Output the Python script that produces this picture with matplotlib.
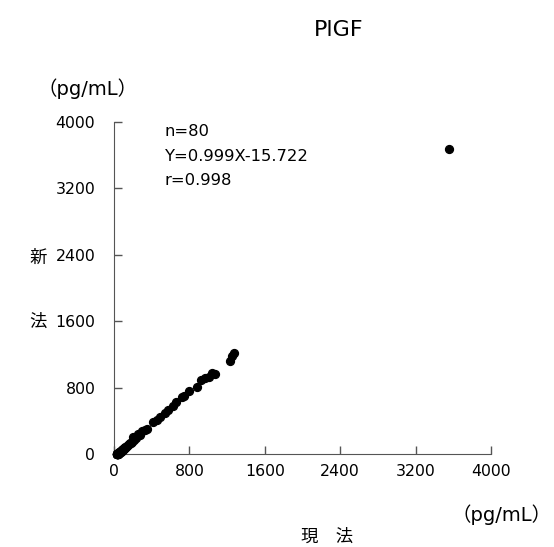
import numpy as np
import matplotlib.pyplot as plt

plt.rcParams['font.family'] = ['DejaVu Sans', 'Noto Sans CJK JP']

# current method (x) vs new method (y), pg/mL
x_cur = [3555, 1270, 1230, 1070, 1005, 925, 880, 800, 720, 660, 570, 540,
         460, 410, 300, 255, 200, 175, 155, 135, 120, 110, 100, 90, 83, 77,
         71, 65, 60, 55, 51, 47, 43, 40, 37, 35, 33, 31, 30, 29,
         215, 190, 167, 145, 127, 115, 105, 95, 87, 80, 74, 68, 63, 58,
         53, 49, 45, 42, 39, 36, 34, 32, 28, 27, 325, 275, 235, 355, 485, 625,
         745, 965, 1035, 1255, 85, 93, 69, 61, 52, 41]
y_new = [3670, 1213, 1121, 969, 933, 889, 808, 760, 681, 621, 529, 500,
         408, 380, 280, 240, 200, 138, 115, 96, 82, 72, 61, 50, 44, 38,
         32, 27, 22, 17, 13, 10, 6, 4, 2, 1, 0, 0, 0, 0,
         170, 150, 128, 104, 88, 76, 66, 56, 48, 42, 35, 30, 24, 20,
         15, 11, 8, 5, 3, 1, 0, 0, 0, 0, 285, 232, 196, 305, 440, 575,
         700, 910, 980, 1180, 46, 54, 30, 22, 13, 4]

ticks = [0, 800, 1600, 2400, 3200, 4000]

fig = plt.figure(figsize=(5.54, 5.47), dpi=100)
ax = fig.add_axes([0.2058, 0.170, 0.6805, 0.607])

ax.scatter(x_cur, y_new, s=32, color='black', zorder=3, clip_on=False)

ax.set_xlim(0, 4000)
ax.set_ylim(0, 4000)
ax.set_xticks(ticks)
ax.set_yticks(ticks)
ax.tick_params(direction='in', length=6, width=1, labelsize=11.3, color='#555555')
ax.tick_params(axis='x', pad=7)
ax.tick_params(axis='y', pad=13.5)
for side in ['top', 'right']:
    ax.spines[side].set_visible(False)
for side in ['left', 'bottom']:
    ax.spines[side].set_color('#555555')

ax.text(0.135, 0.97, 'n=80', transform=ax.transAxes, fontsize=11.8, va='center')
ax.text(0.135, 0.895, 'Y=0.999X-15.722', transform=ax.transAxes, fontsize=11.8, va='center')
ax.text(0.135, 0.825, 'r=0.998', transform=ax.transAxes, fontsize=11.8, va='center')

fig.text(0.612, 0.945, 'PlGF', fontsize=16, ha='center', va='center')
fig.text(0.158, 0.838, '（pg/mL）', fontsize=14, ha='center', va='center')
fig.text(0.906, 0.059, '（pg/mL）', fontsize=14, ha='center', va='center')
fig.text(0.59, 0.018, '現　法', fontsize=12.5, ha='center', va='center')
fig.text(0.069, 0.528, '新', fontsize=12.5, ha='center', va='center')
fig.text(0.069, 0.411, '法', fontsize=12.5, ha='center', va='center')

fig.savefig('out.png', dpi=100)
